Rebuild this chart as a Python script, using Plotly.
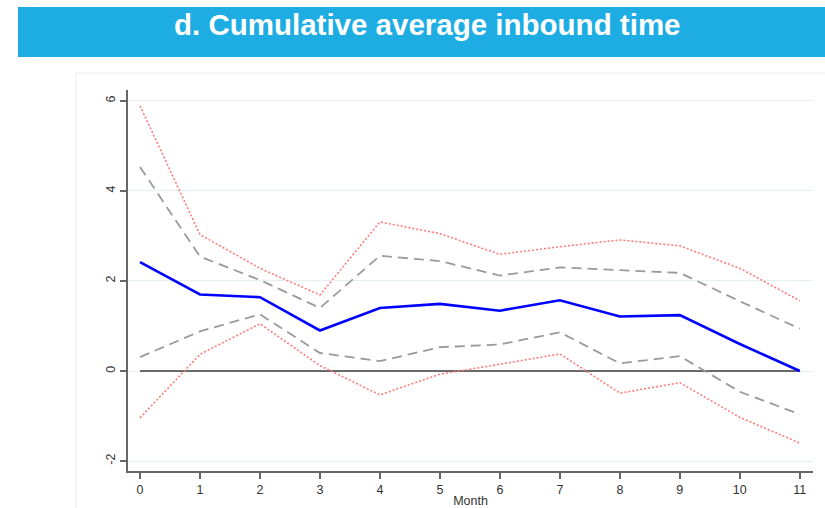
import plotly.graph_objects as go

# Months after the event
months = [0, 1, 2, 3, 4, 5, 6, 7, 8, 9, 10, 11]

# Point estimates of the cumulative average inbound time effect
estimate = [2.42, 1.70, 1.64, 0.90, 1.40, 1.49, 1.34, 1.57, 1.21, 1.24, 0.60, 0.0]

# Inner confidence band (dashed grey)
ci_inner_upper = [4.53, 2.54, 2.02, 1.40, 2.56, 2.44, 2.12, 2.30, 2.24, 2.18, 1.55, 0.94]
ci_inner_lower = [0.31, 0.88, 1.26, 0.40, 0.22, 0.53, 0.59, 0.86, 0.17, 0.33, -0.46, -0.96]

# Outer confidence band (dotted red)
ci_outer_upper = [5.89, 3.03, 2.28, 1.69, 3.31, 3.05, 2.59, 2.76, 2.91, 2.78, 2.28, 1.56]
ci_outer_lower = [-1.04, 0.37, 1.05, 0.12, -0.53, -0.07, 0.15, 0.38, -0.49, -0.26, -1.03, -1.60]

# Reference line at zero
zero_ref = [0] * len(months)

y_ticks = [-2, 0, 2, 4, 6]

title_text = "d. Cumulative average inbound time"
x_title = "Month"

fig = go.Figure()

fig.add_trace(go.Scatter(x=months, y=zero_ref, mode="lines",
                         line=dict(color="#3a3a3a", width=1.6), hoverinfo="skip"))

for series in (ci_outer_upper, ci_outer_lower):
    fig.add_trace(go.Scatter(x=months, y=series, mode="lines",
                             line=dict(color="#ff7a7a", width=1.6, dash="2px,2px")))

for series in (ci_inner_upper, ci_inner_lower):
    fig.add_trace(go.Scatter(x=months, y=series, mode="lines",
                             line=dict(color="#9a9a9a", width=1.8, dash="10px,6px")))

fig.add_trace(go.Scatter(x=months, y=estimate, mode="lines",
                         line=dict(color="#0000ff", width=2.6)))

# Geometry of the plotting region (pixels)
W, H = 825, 508
L, R, T, B = 128, 12, 90, 37
pw, ph = W - L - R, H - T - B


def px_x(p):
    return (p - L) / pw


def px_y(p):
    return (H - B - p) / ph


shapes = [
    # light panel frame behind the graph
    dict(type="rect", xref="paper", yref="paper",
         x0=px_x(76), x1=px_x(830), y0=px_y(515), y1=px_y(73),
         line=dict(color="#ececec", width=1), fillcolor="rgba(0,0,0,0)", layer="below"),
    # title banner
    dict(type="rect", xref="paper", yref="paper",
         x0=px_x(18), x1=px_x(830), y0=px_y(57), y1=px_y(7),
         line=dict(width=0), fillcolor="#1eade3", layer="above"),
]

fig.update_layout(
    width=W, height=H,
    margin=dict(l=L, r=R, t=T, b=B, autoexpand=False),
    paper_bgcolor="white", plot_bgcolor="white",
    showlegend=False,
    shapes=shapes,
    annotations=[
        dict(text=title_text, xref="paper", yref="paper",
             x=px_x(427), y=px_y(25), xanchor="center", yanchor="middle",
             showarrow=False,
             font=dict(family="Liberation Sans, Arial, sans-serif", size=29.5,
                       color="white", weight="bold")),
    ],
    font=dict(family="Liberation Sans, Arial, sans-serif", color="#333333"),
)

fig.update_xaxes(
    range=[-0.2, 11.22], tickmode="array", tickvals=months,
    ticktext=[str(m) for m in months],
    showline=True, linecolor="#666666", linewidth=2,
    ticks="outside", ticklen=6, tickwidth=1.5, tickcolor="#666666",
    showgrid=False, zeroline=False, automargin=False,
    tickfont=dict(size=12.5, color="#333333"),
    title=dict(text=x_title, font=dict(size=12.5, color="#333333"), standoff=0),
)

fig.update_yaxes(
    range=[-2.22, 6.24], tickmode="array", tickvals=y_ticks,
    ticktext=[str(v) for v in y_ticks], tickangle=-90,
    showline=True, linecolor="#666666", linewidth=2,
    ticks="outside", ticklen=6, tickwidth=1.5, tickcolor="#666666",
    showgrid=True, gridcolor="#e6f0f2", gridwidth=1,
    zeroline=False, automargin=False,
    tickfont=dict(size=12.5, color="#333333"),
)

fig.write_html("out.html")
